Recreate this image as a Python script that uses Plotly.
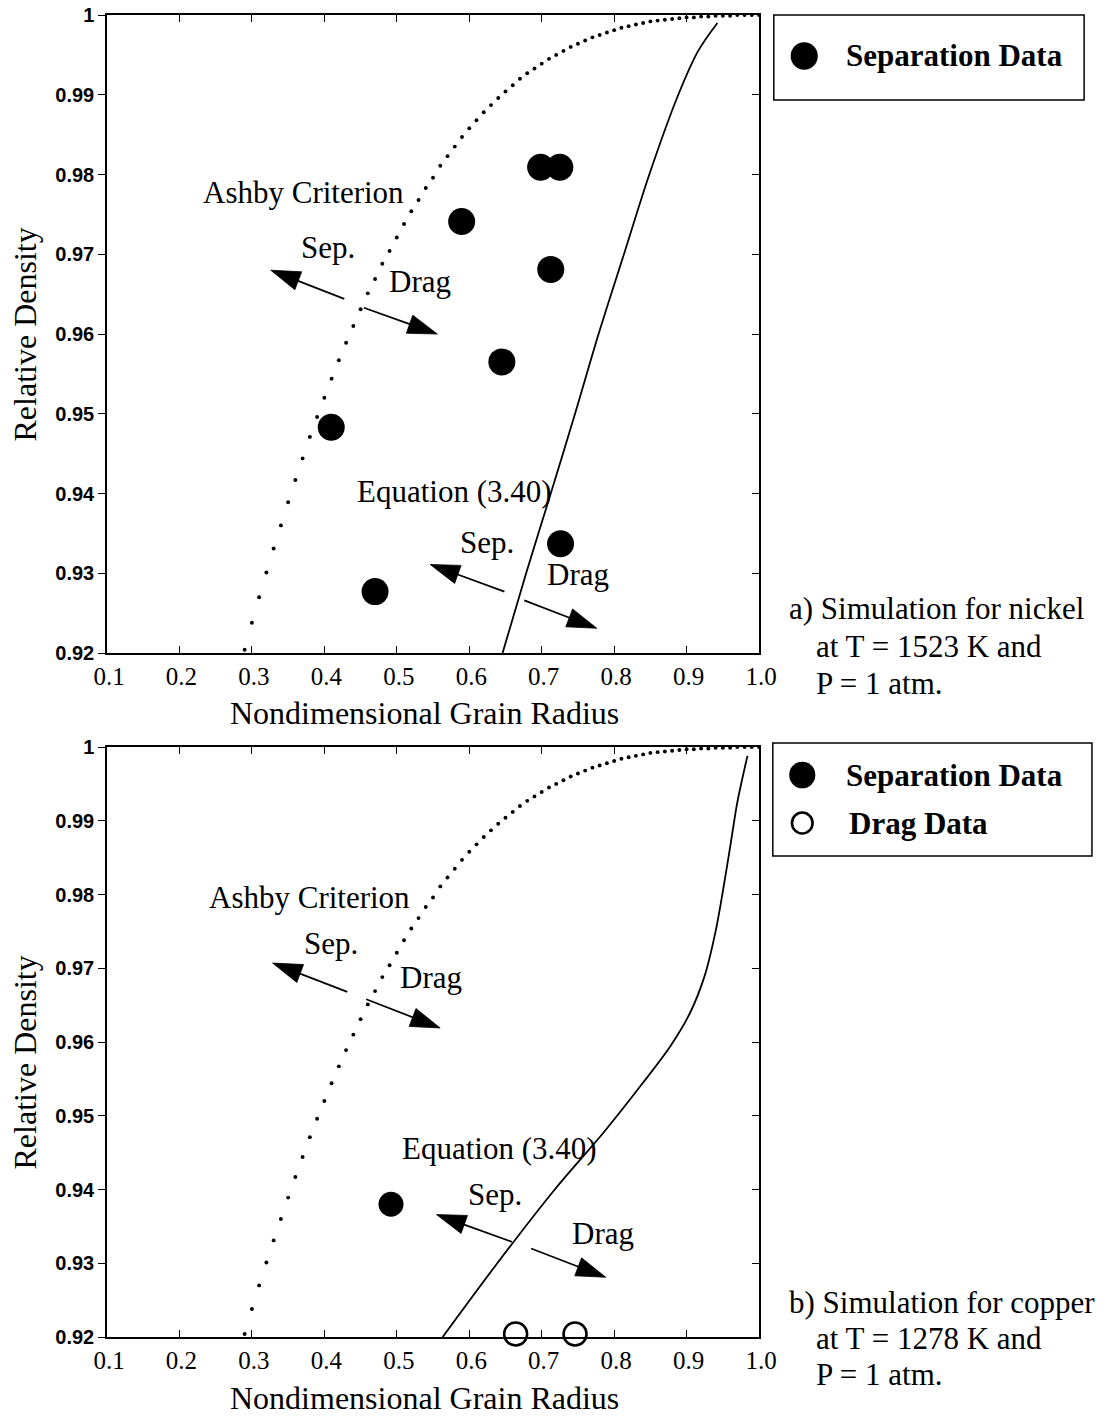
import plotly.graph_objects as go

# ---------------- data ----------------
ashby_x = [0.29, 0.30, 0.31, 0.32, 0.33, 0.34, 0.35, 0.36, 0.37, 0.38, 0.39, 0.40,
           0.41, 0.42, 0.43, 0.44, 0.45, 0.46, 0.47, 0.48, 0.49, 0.50, 0.51, 0.52,
           0.53, 0.54, 0.55, 0.56, 0.57, 0.58, 0.59, 0.60, 0.61, 0.62, 0.63, 0.64,
           0.65, 0.66, 0.67, 0.68, 0.69, 0.70, 0.71, 0.72, 0.73, 0.74, 0.75, 0.76,
           0.77, 0.78, 0.79, 0.80, 0.81, 0.82, 0.83, 0.84, 0.85, 0.86, 0.87, 0.88,
           0.89, 0.90, 0.91, 0.92, 0.93, 0.94, 0.95, 0.96, 0.97, 0.98, 0.99, 1.00]
ashby_y = [0.9204, 0.9238, 0.9270, 0.9301, 0.9331, 0.9360, 0.9389, 0.9417, 0.9444,
           0.9471, 0.9496, 0.9520, 0.9544, 0.9567, 0.9589, 0.9610, 0.9631, 0.9651,
           0.9669, 0.9688, 0.9704, 0.9721, 0.9738, 0.9754, 0.9768, 0.9783, 0.9796,
           0.9811, 0.9823, 0.9835, 0.9847, 0.9858, 0.9868, 0.9878, 0.9887, 0.9896,
           0.9904, 0.9912, 0.9920, 0.9927, 0.9933, 0.9939, 0.9945, 0.9950, 0.9955,
           0.9960, 0.9964, 0.9968, 0.9972, 0.9975, 0.9978, 0.9981, 0.9984, 0.9986,
           0.9988, 0.9990, 0.9992, 0.9993, 0.9994, 0.9995, 0.9996, 0.9997, 0.9997,
           0.9998, 0.9998, 0.9999, 0.9999, 0.9999, 1.0000, 1.0000, 1.0000, 1.0000]

# (a) nickel
eq_a_x = [0.646, 0.6785, 0.7125, 0.746, 0.7785, 0.8135, 0.8485, 0.8885, 0.916, 0.9425]
eq_a_y = [0.920, 0.930, 0.940, 0.950, 0.960, 0.970, 0.980, 0.990, 0.9955, 0.999]
sep_a_x = [0.6985, 0.725, 0.5895, 0.7125, 0.645, 0.4095, 0.726, 0.470]
sep_a_y = [0.9809, 0.9809, 0.9741, 0.9681, 0.9565, 0.9483, 0.9337, 0.9277]

# (b) copper
eq_b_x = [0.5633, 0.6387, 0.718, 0.786, 0.840, 0.878, 0.905, 0.925, 0.940,
          0.951, 0.961, 0.970, 0.9840]
eq_b_y = [0.920, 0.930, 0.940, 0.9478, 0.9545, 0.9595, 0.9640, 0.9690, 0.9750,
          0.9810, 0.9870, 0.9925, 0.9988]
sep_b_x = [0.492]
sep_b_y = [0.938]
drag_b_x = [0.664, 0.746]
drag_b_y = [0.9204, 0.9204]

# direction arrows: (tail x, tail y, tip x, tip y)
arrows_a = [(0.4275, 0.9644, 0.326, 0.9680),
            (0.4545, 0.9633, 0.556, 0.9600),
            (0.6485, 0.9277, 0.546, 0.9311),
            (0.6760, 0.9266, 0.776, 0.9231)]
arrows_b = [(0.4317, 0.9668, 0.3286, 0.9707),
            (0.4578, 0.9658, 0.5598, 0.9619),
            (0.6588, 0.9329, 0.5548, 0.9366),
            (0.6854, 0.9320, 0.7884, 0.9281)]

# in-plot labels: (text, x, y)
labels_a = [("Ashby Criterion", 0.3716, 0.9777), ("Sep.", 0.4055, 0.9708),
            ("Drag", 0.5315, 0.9666), ("Equation (3.40)", 0.580, 0.9403),
            ("Sep.", 0.624, 0.9339), ("Drag", 0.7505, 0.9299)]
labels_b = [("Ashby Criterion", 0.3799, 0.9796), ("Sep.", 0.4085, 0.9734),
            ("Drag", 0.5472, 0.9687), ("Equation (3.40)", 0.6417, 0.9455),
            ("Sep.", 0.6357, 0.9393), ("Drag", 0.784, 0.9341)]

x_ticks = [0.1, 0.2, 0.3, 0.4, 0.5, 0.6, 0.7, 0.8, 0.9, 1.0]
x_ticktext = ["0.1", "0.2", "0.3", "0.4", "0.5", "0.6", "0.7", "0.8", "0.9", "1.0"]
y_ticks = [0.92, 0.93, 0.94, 0.95, 0.96, 0.97, 0.98, 0.99, 1.0]
y_ticktext = ["0.92", "0.93", "0.94", "0.95", "0.96", "0.97", "0.98", "0.99", "1"]

caption_a = ["a) Simulation for nickel", "at T = 1523 K and", "P = 1 atm."]
caption_b = ["b) Simulation for copper", "at T = 1278 K and", "P = 1 atm."]

# ---------------- layout geometry ----------------
W, H = 1112, 1420
ML, MR, MT, MB = 107, 4, 15, 83
PW = W - ML - MR
PH = H - MT - MB


def px_x(p):
    return (p - ML) / PW


def px_y(p):
    return (H - MB - p) / PH


SERIF = "Liberation Serif, Times New Roman, serif"
SANS = "Liberation Sans, Arial, sans-serif"
BLACK = "black"

fig = go.Figure()


def add_panel(xa, ya, ya_right, eq_x, eq_y, sep_x, sep_y, arrows, sep_size):
    # the dotted criterion is drawn on the right-hand twin axis (same range),
    # so that the right-hand inner tick marks are rendered
    fig.add_trace(go.Scatter(x=ashby_x, y=ashby_y, mode="markers", name="Ashby Criterion",
                             marker=dict(size=3.9, color=BLACK), xaxis=xa, yaxis=ya_right,
                             showlegend=False, cliponaxis=False, hoverinfo="skip"))
    fig.add_trace(go.Scatter(x=eq_x, y=eq_y, mode="lines", name="Equation (3.40)",
                             line=dict(color=BLACK, width=1.8, shape="spline", smoothing=0.9),
                             xaxis=xa, yaxis=ya, showlegend=False, hoverinfo="skip"))
    for (tx, ty, hx, hy) in arrows:
        fig.add_trace(go.Scatter(x=[tx, hx], y=[ty, hy], mode="lines+markers",
                                 line=dict(color=BLACK, width=1.7),
                                 marker=dict(symbol="arrow", size=[0, 31], angleref="previous",
                                             color=BLACK, opacity=1,
                                             line=dict(width=0.8, color=BLACK)),
                                 xaxis=xa, yaxis=ya, showlegend=False, hoverinfo="skip",
                                 cliponaxis=False))
    fig.add_trace(go.Scatter(x=sep_x, y=sep_y, mode="markers", name="Separation Data",
                             marker=dict(size=sep_size, color=BLACK, opacity=1), xaxis=xa,
                             yaxis=ya, showlegend=False, cliponaxis=False))


add_panel("x", "y", "y3", eq_a_x, eq_a_y, sep_a_x, sep_a_y, arrows_a, 27)
add_panel("x2", "y2", "y4", eq_b_x, eq_b_y, sep_b_x, sep_b_y, arrows_b, 25)
fig.add_trace(go.Scatter(x=drag_b_x, y=drag_b_y, mode="markers", name="Drag Data",
                         marker=dict(size=23, color="rgba(0,0,0,0)", opacity=1,
                                     line=dict(color=BLACK, width=2.6)),
                         xaxis="x2", yaxis="y2", showlegend=False, cliponaxis=False))

xdom = [0, px_x(771)]
ydom_a = [px_y(653), px_y(15)]
ydom_b = [px_y(1337), px_y(747)]

xcommon = dict(range=[0.1, 1.0], tickvals=x_ticks, ticktext=x_ticktext, ticks="inside",
               ticklen=7, tickwidth=1.2, tickcolor=BLACK, mirror="ticks", showline=True,
               linecolor=BLACK, linewidth=1.5, showgrid=False, zeroline=False,
               tickfont=dict(family=SERIF, size=25, color=BLACK), ticklabelshift=2,
               domain=xdom, fixedrange=True)
ycommon = dict(range=[0.92, 1.0], tickvals=y_ticks, ticktext=y_ticktext, ticks="outside",
               ticklen=7, tickwidth=1.2, tickcolor=BLACK, mirror=True, showline=True,
               linecolor=BLACK, linewidth=1.5, showgrid=False, zeroline=False,
               tickfont=dict(family=SANS, size=20, color=BLACK, weight="bold"), fixedrange=True)
yright = dict(range=[0.92, 1.0], tickvals=y_ticks, ticks="inside", ticklen=7, tickwidth=1.2,
              tickcolor=BLACK, showticklabels=False, showline=False, showgrid=False,
              zeroline=False, side="right", fixedrange=True)

fig.update_layout(
    width=W, height=H,
    margin=dict(l=ML, r=MR, t=MT, b=MB),
    paper_bgcolor="white", plot_bgcolor="white",
    showlegend=False,
    xaxis=dict(anchor="y", **xcommon),
    xaxis2=dict(anchor="y2", **xcommon),
    yaxis=dict(anchor="x", domain=ydom_a, **ycommon),
    yaxis2=dict(anchor="x2", domain=ydom_b, **ycommon),
    yaxis3=dict(anchor="x", overlaying="y", **yright),
    yaxis4=dict(anchor="x2", overlaying="y2", **yright),
)

annotations = []
for xa, ya, labels in (("x", "y", labels_a), ("x2", "y2", labels_b)):
    for (t, lx, ly) in labels:
        annotations.append(dict(text=t, x=lx, y=ly, xref=xa, yref=ya, showarrow=False,
                                font=dict(family=SERIF, size=31, color=BLACK),
                                xanchor="center", yanchor="middle"))

# axis titles
for cy in (334, 1062):
    annotations.append(dict(text="Relative Density", x=px_x(24), y=px_y(cy), xref="paper",
                            yref="paper", showarrow=False, textangle=-90,
                            font=dict(family=SERIF, size=32, color=BLACK),
                            xanchor="center", yanchor="middle"))
for cy in (713, 1398):
    annotations.append(dict(text="Nondimensional Grain Radius", x=px_x(430), y=px_y(cy),
                            xref="paper", yref="paper", showarrow=False,
                            font=dict(family=SERIF, size=32, color=BLACK),
                            xanchor="center", yanchor="middle"))

# captions
for lines, ys in ((caption_a, (609, 646, 683)), (caption_b, (1302, 1338, 1374))):
    for i, (t, cy) in enumerate(zip(lines, ys)):
        annotations.append(dict(text=t, x=px_x(799 if i == 0 else 827), y=px_y(cy),
                                xref="paper", yref="paper", showarrow=False,
                                font=dict(family=SERIF, size=31, color=BLACK),
                                xanchor="left", yanchor="middle"))

# legend boxes (drawn)
shapes = []
shapes.append(dict(type="rect", xref="paper", yref="paper", x0=px_x(786), x1=px_x(1102),
                   y0=px_y(100), y1=px_y(15), line=dict(color=BLACK, width=1.5)))
shapes.append(dict(type="rect", xref="paper", yref="paper", x0=px_x(785), x1=px_x(1110),
                   y0=px_y(856), y1=px_y(743), line=dict(color=BLACK, width=1.5)))


def legend_circle(cx, cy, r, filled, lw=0):
    return dict(type="circle", xref="paper", yref="paper",
                x0=px_x(cx - r), x1=px_x(cx + r), y0=px_y(cy + r), y1=px_y(cy - r),
                fillcolor=BLACK if filled else "white",
                line=dict(color=BLACK, width=lw))


shapes.append(legend_circle(817, 56, 13.8, True))
shapes.append(legend_circle(815, 775, 13.3, True))
shapes.append(legend_circle(815, 823, 10.5, False, 2.6))

for (t, lx, cy) in (("Separation Data", 858, 56), ("Separation Data", 857, 775),
                    ("Drag Data", 861, 823)):
    annotations.append(dict(text=t, x=px_x(lx), y=px_y(cy), xref="paper", yref="paper",
                            showarrow=False, font=dict(family=SERIF, size=31, color=BLACK,
                                                       weight="bold"),
                            xanchor="left", yanchor="middle"))

fig.update_layout(annotations=annotations, shapes=shapes)

fig.write_html("out.html")
